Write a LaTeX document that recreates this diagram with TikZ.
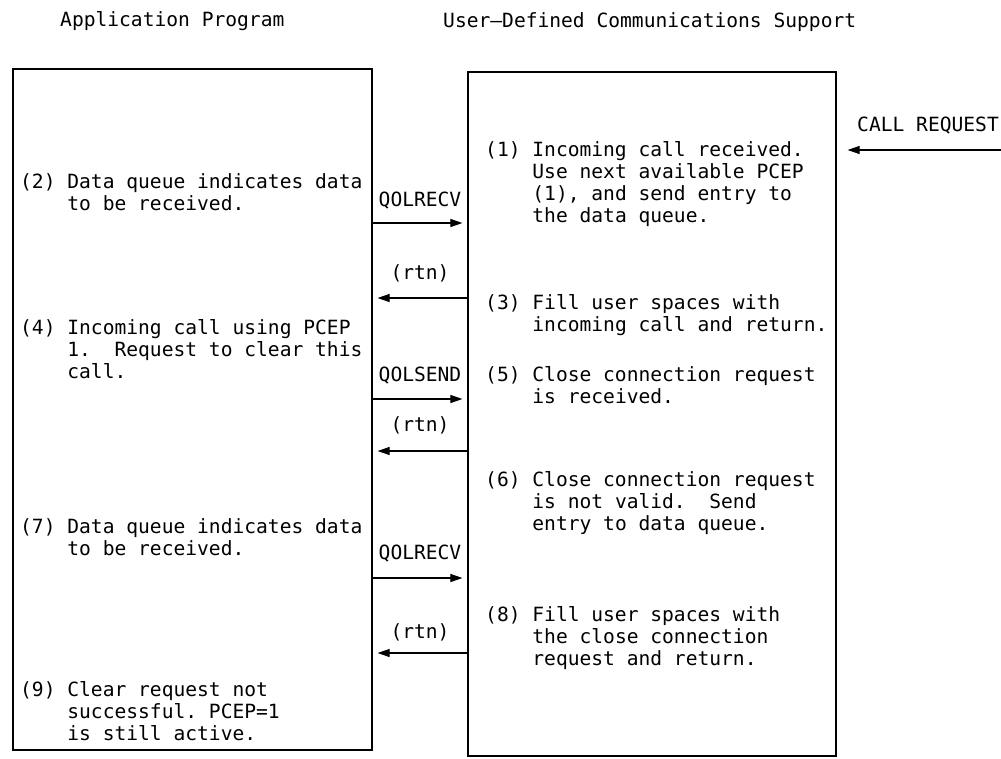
\documentclass[tikz,border=0pt]{standalone}
\usepackage{fontspec}
\newfontfamily\monofont{DejaVu Sans Mono}
\usetikzlibrary{arrows.meta}
% hanging indent equal to the width of a step number "(n) "
\newcommand{\ind}{\hphantom{(0)\ }}
% a step description: lines kept as typed, baseline on the first line
\newcommand{\steptext}[1]{\begin{tabular}[t]{@{}l@{}}#1\end{tabular}}
\begin{document}
\begin{tikzpicture}[x=1pt,y=-1pt,
  txt/.style={font=\monofont\fontsize{19.6}{22}\selectfont\frenchspacing, inner sep=0pt},
  para/.style={txt, anchor=base west},
  lbl/.style={txt, anchor=base},
  box/.style={draw, line width=1.2pt, inner sep=0pt},
  arr/.style={line width=1.1pt, -{Triangle[length=12pt,width=8pt]}}]

\useasboundingbox (0,0) rectangle (1001,758);

% column headings
\node[txt, anchor=base west] (hleft)  at (60,26)  {Application Program};
\node[txt, anchor=base west] (hright) at (443,27) {User—Defined Communications Support};

% the two process boxes
\node[box, minimum width=359pt, minimum height=681pt] (app) at (192.5,409.5) {};
\node[box, minimum width=368pt, minimum height=684pt] (ucs) at (652,414) {};

% application program steps
\node[para] (s2) at (20,188) {\steptext{(2) Data queue indicates data\\\ind to be received.}};
\node[para] (s4) at (20,334) {\steptext{(4) Incoming call using PCEP\\\ind 1.\ \ Request to clear this\\\ind call.}};
\node[para] (s7) at (20,533) {\steptext{(7) Data queue indicates data\\\ind to be received.}};
\node[para] (s9) at (20,696) {\steptext{(9) Clear request not\\\ind successful. PCEP=1\\\ind is still active.}};

% communications support steps
\node[para] (s1) at (485,156) {\steptext{(1) Incoming call received.\\\ind Use next available PCEP\\\ind (1), and send entry to\\\ind the data queue.}};
\node[para] (s3) at (485,309) {\steptext{(3) Fill user spaces with\\\ind incoming call and return.}};
\node[para] (s5) at (485,381) {\steptext{(5) Close connection request\\\ind is received.}};
\node[para] (s6) at (485,486) {\steptext{(6) Close connection request\\\ind is not valid.\ \ Send\\\ind entry to data queue.}};
\node[para] (s8) at (485,621) {\steptext{(8) Fill user spaces with\\\ind the close connection\\\ind request and return.}};

% incoming call from the network
\node[txt, anchor=base west] (callreq) at (857,131) {CALL REQUEST};
\coordinate (netend) at (1001,150);
\draw[arr, shorten >=11pt] (netend) -- (ucs.east |- netend);

% API calls and returns
\node[lbl] (c1) at (420,206) {QOLRECV};
\draw[arr, shorten >=5pt] (app.east |- 0,223) -- (ucs.west |- 0,223);
\node[lbl] (r1) at (420,279) {(rtn)};
\draw[arr, shorten >=5pt] (ucs.west |- 0,298) -- (app.east |- 0,298);
\node[lbl] (c2) at (420,381) {QOLSEND};
\draw[arr, shorten >=5pt] (app.east |- 0,399) -- (ucs.west |- 0,399);
\node[lbl] (r2) at (420,431) {(rtn)};
\draw[arr, shorten >=5pt] (ucs.west |- 0,451) -- (app.east |- 0,451);
\node[lbl] (c3) at (420,559) {QOLRECV};
\draw[arr, shorten >=5pt] (app.east |- 0,578) -- (ucs.west |- 0,578);
\node[lbl] (r3) at (420,638) {(rtn)};
\draw[arr, shorten >=5pt] (ucs.west |- 0,653) -- (app.east |- 0,653);

\end{tikzpicture}
\end{document}
